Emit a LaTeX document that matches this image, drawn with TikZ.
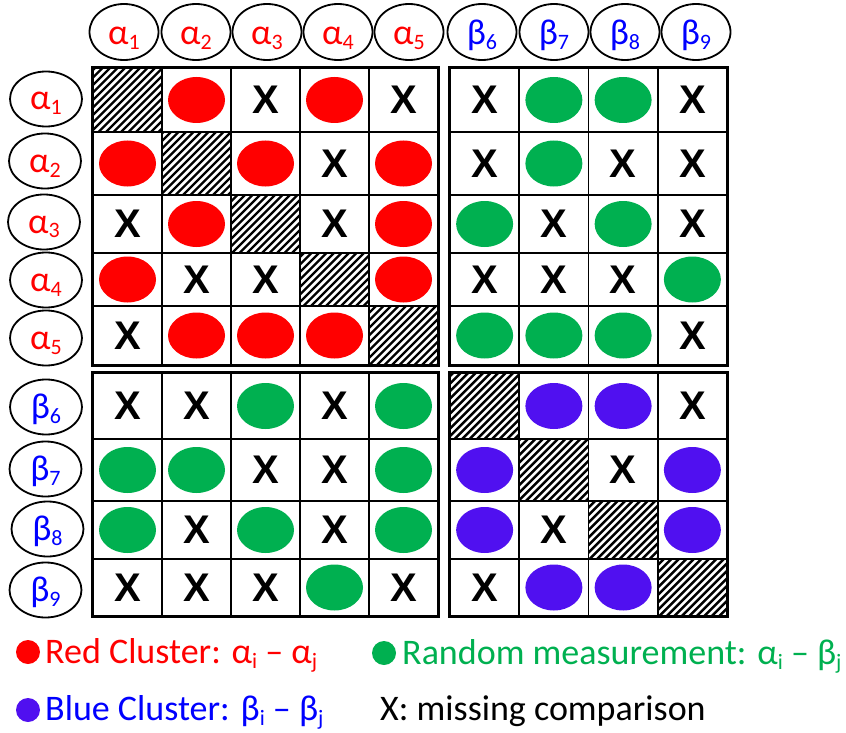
\documentclass[tikz,border=0pt]{standalone}
\usepackage{fontspec}
\setmainfont{Carlito}
\newfontfamily\xfont{Liberation Sans}
\usepackage{xcolor}
\usepackage{tikz}
\usetikzlibrary{calc}
\usetikzlibrary{positioning}
\usetikzlibrary{shapes.geometric}

\definecolor{redc}{RGB}{255,0,0}
\definecolor{greenc}{RGB}{0,176,80}
\definecolor{bluec}{RGB}{80,16,240}
\definecolor{bluet}{RGB}{0,0,255}

\newcommand{\sbs}[1]{\raisebox{-5pt}{\fontsize{22}{22}\selectfont #1}}
\def\txtH{}
\def\txtR{}
\def\txtG{}
\def\txtB{}
\def\txtX{X}

\begin{document}
\begin{tikzpicture}[x=1pt, y=-1pt]

        \def\cw{69}

        \useasboundingbox (0,0) rectangle (846,733);

        % looks of the cells, the labels and the legend
        \tikzset{
            cell/.style={draw, line width=1.5pt, minimum width=\cw pt, inner sep=0pt},
            cellH/.style={path picture={
                \foreach \k in {-72,-64.5,...,72}
                \draw[line width=2.4pt] ([xshift=\k pt]path picture bounding box.center)
                    +(-45pt,-45pt) -- +(45pt,45pt);}},
            cellR/.style={path picture={\fill[redc] (path picture bounding box.center)
                ellipse [x radius=28.5pt, y radius=23pt];}},
            cellG/.style={path picture={\fill[greenc] (path picture bounding box.center)
                ellipse [x radius=28.5pt, y radius=23pt];}},
            cellB/.style={path picture={\fill[bluec] (path picture bounding box.center)
                ellipse [x radius=28.5pt, y radius=23pt];}},
            cellX/.style={font=\xfont\bfseries\fontsize{40}{40}\selectfont},
            block/.style={draw, line width=2.6pt},
            head/.style={ellipse, draw, line width=1.8pt, fill=white, inner sep=0pt,
                minimum width=69pt, minimum height=56pt, text height=31pt,
                text depth=5pt, font=\fontsize{36}{36}\selectfont},
            rowhead/.style={head, minimum width=72pt, minimum height=55pt,
                text height=27pt},
            dot/.style={circle, inner sep=0pt, minimum size=24pt},
            legend/.style={anchor=base west, inner sep=0pt,
                font=\fontsize{36}{36}\selectfont}
        }

        % the comparison matrix, one row at a time
        \foreach \rw/\yc/\rh/\row in {
            1/100/64/{H,R,X,R,X,X,G,G,X},
            2/163.5/63/{R,H,R,X,R,X,G,X,X},
            3/224/58/{X,R,H,X,R,G,X,G,X},
            4/279.5/53/{R,X,X,H,R,X,X,X,G},
            5/335.5/59/{X,R,R,R,H,G,G,G,X},
            6/406/66/{X,X,G,X,G,H,B,B,X},
            7/470/62/{G,G,X,X,G,B,H,X,B},
            8/530/58/{G,X,G,X,G,B,X,H,B},
            9/587.5/57/{X,X,X,G,X,X,B,B,H}}
        {
            \foreach \mk [count=\cl] in \row {
                \pgfmathsetmacro\xc{\cl<6 ? 93+69*(\cl-0.5) : 450+69.25*(\cl-5.5)}
                \node (m\rw-\cl) [cell, minimum height=\rh pt, cell\mk]
                at (\xc,\yc) {\csname txt\mk\endcsname};
            }
        }

        \begin{scope}
            \draw[block] (m1-1.north west) rectangle (m5-5.south east);
            \draw[block] (m1-6.north west) rectangle (m5-9.south east);
            \draw[block] (m6-1.north west) rectangle (m9-5.south east);
            \draw[block] (m6-6.north west) rectangle (m9-9.south east);
        \end{scope}

        % column heads
        \foreach \i/\x in {1/124, 2/196, 3/267, 4/338, 5/409}
            \node (ca\i) [head, text=redc] at (\x,32) {α\sbs{\i}};
        \foreach \i/\x in {6/482, 7/554, 8/625, 9/696}
            \node (cb\i) [head, text=bluet] at (\x,32) {β\sbs{\i}};

        % row heads
        \foreach \i/\x/\y in {1/46/99, 2/45/161, 3/44/222, 4/46/280, 5/46/338}
            \node (ra\i) [rowhead, text=redc] at (\x,\y) {α\sbs{\i}};
        \foreach \i/\x/\y in {6/46/407, 7/45.5/469, 8/47.5/529, 9/45.5/590}
            \node (rb\i) [rowhead, text=bluet] at (\x,\y) {β\sbs{\i}};

        % legend
        \node (dr) [dot, fill=redc] at (28,652) {};
        \node (lr) [legend, text=redc] at (45,663)
        {Red Cluster: α\sbs{i} – α\sbs{j}};
        \node (dg) [dot, fill=greenc] at (384,653) {};
        \node (lg) [legend, text=greenc] at (402,664)
        {Random measurement: α\sbs{i} – β\sbs{j}};
        \node (db) [dot, fill=bluec] at (28,710) {};
        \node (lb) [legend, text=bluet] at (45,720)
        {Blue Cluster: β\sbs{i} – β\sbs{j}};
        \node (lx) [legend] at (380,720) {X: missing comparison};

\end{tikzpicture}
\end{document}
